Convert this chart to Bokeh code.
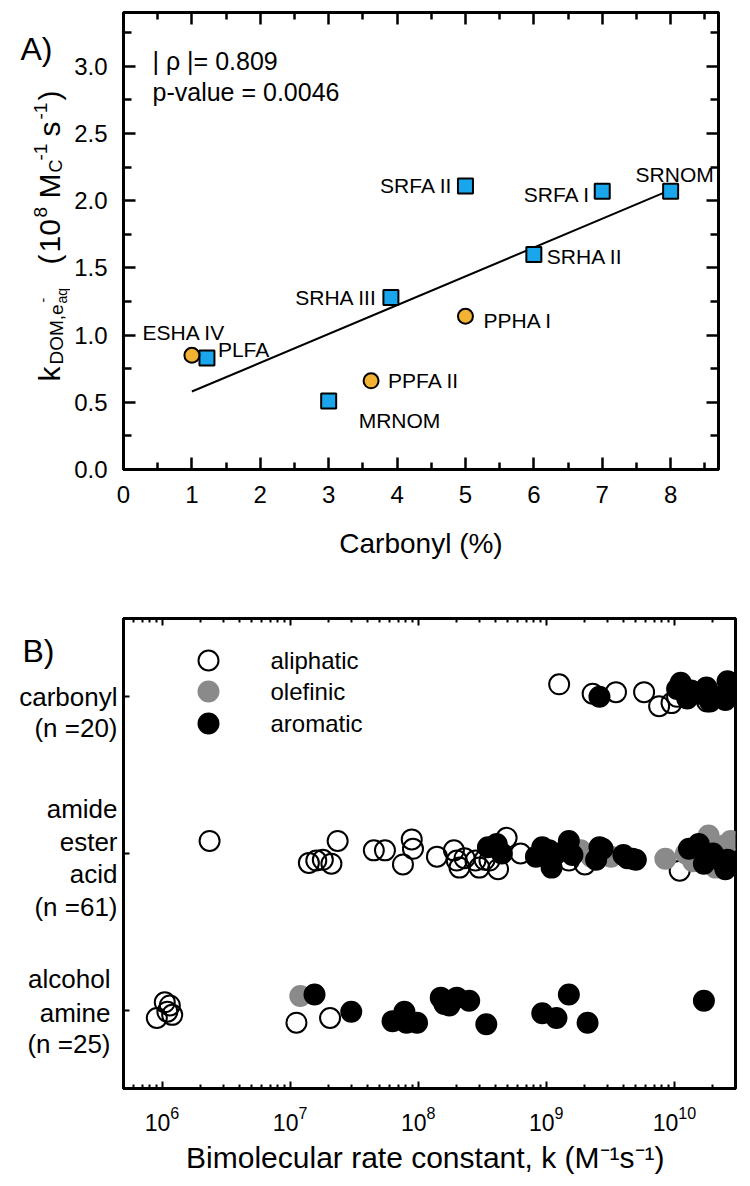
import math
from bokeh.plotting import figure
from bokeh.models import (ColumnDataSource, FixedTicker, LinearAxis, LogAxis,
                          Label, Range1d, NumeralTickFormatter)
from bokeh.layouts import column, row
from bokeh.core.properties import value
from bokeh.embed import file_html
from bokeh.resources import INLINE

FONT = "Liberation Sans"

# ---------------- Panel A data ----------------
a_names = ["ESHA IV", "PLFA", "MRNOM", "PPFA II", "SRHA III",
           "PPHA I", "SRFA II", "SRHA II", "SRFA I", "SRNOM"]
a_carbonyl = [1.0, 1.22, 3.0, 3.62, 3.91, 5.0, 5.0, 6.0, 7.0, 8.0]
a_kdom = [0.85, 0.83, 0.51, 0.66, 1.28, 1.14, 2.11, 1.60, 2.07, 2.07]
a_group = ["circle", "square", "square", "circle", "square",
           "circle", "square", "square", "square", "square"]
fit_x = [1.0, 8.0]
fit_y = [0.58, 2.08]
a_xticks = [0, 1, 2, 3, 4, 5, 6, 7, 8]
a_yticks = [0.0, 0.5, 1.0, 1.5, 2.0, 2.5, 3.0]
a_stats = ["| \u03c1 |= 0.809", "p-value = 0.0046"]

# ---------------- Panel B data ----------------
b_types = ["aliphatic", "olefinic", "aromatic"]
b_row_labels = [["carbonyl", "(n =20)"],
                ["amide", "ester", "acid", "(n =61)"],
                ["alcohol", "amine", "(n =25)"]]
b_row_pos = [3, 2, 1]

carbonyl_aliphatic_k = [1.26e9, 2.3e9, 3.5e9, 5.8e9, 7.6e9, 9.5e9, 1.05e10, 1.8e10]
carbonyl_aliphatic_y = [3.08, 3.02, 3.03, 3.03, 2.94, 2.96, 3.00, 2.97]
carbonyl_olefinic_k = []
carbonyl_olefinic_y = []
carbonyl_aromatic_k = [2.6e9, 1.05e10, 1.12e10, 1.26e10, 1.35e10, 1.58e10,
                       1.78e10, 1.9e10, 2.1e10, 2.5e10, 2.6e10, 2.8e10]
carbonyl_aromatic_y = [3.00, 3.05, 3.09, 2.99, 3.04, 3.02, 3.06, 2.97, 3.00, 2.98, 3.10, 3.03]

amide_aliphatic_k = [2.35e6, 1.4e7, 1.6e7, 1.8e7, 2.1e7, 2.35e7, 4.5e7, 5.5e7, 7.6e7,
                     8.9e7, 9.1e7, 1.4e8, 1.9e8, 2.0e8, 2.1e8, 2.3e8, 2.8e8, 3.0e8,
                     3.3e8, 3.6e8, 4.2e8, 4.9e8, 6.3e8, 1.5e9, 2.0e9, 1.1e10]
amide_aliphatic_y = [2.08, 1.94, 1.955, 1.96, 1.935, 2.08, 2.02, 2.02, 1.93,
                     2.09, 2.03, 1.98, 2.02, 1.955, 1.91, 1.97, 1.955, 1.91,
                     1.96, 1.955, 1.90, 2.10, 2.00, 1.955, 1.93, 1.89]
amide_olefinic_k = [1.85e9, 2.25e9, 3.2e9, 8.5e9, 1.23e10, 1.4e10, 1.85e10,
                    2.1e10, 2.1e10, 2.4e10, 2.75e10]
amide_olefinic_y = [2.02, 1.98, 1.98, 1.966, 2.00, 1.95, 2.115, 2.02, 1.91, 2.05, 2.08]
amide_aromatic_k = [3.5e8, 4.1e8, 4.5e8, 8.3e8, 9.3e8, 1.05e9, 1.1e9, 1.2e9, 1.5e9,
                    1.6e9, 2.45e9, 2.6e9, 2.75e9, 4.0e9, 4.3e9, 4.7e9, 5.0e9,
                    1.3e10, 1.55e10, 1.7e10, 2.0e10, 2.3e10, 2.5e10, 2.6e10]
amide_aromatic_y = [2.04, 2.06, 2.00, 1.98, 2.04, 2.02, 1.91, 2.00, 2.08,
                    1.99, 1.96, 2.04, 2.03, 1.99, 1.97, 1.966, 1.96,
                    2.03, 2.06, 1.935, 2.00, 1.955, 1.90, 1.96]

alcohol_aliphatic_k = [9.1e5, 1.05e6, 1.1e6, 1.15e6, 1.2e6, 1.12e7, 2.05e7]
alcohol_aliphatic_y = [0.95, 1.05, 0.99, 1.03, 0.97, 0.92, 0.95]
alcohol_olefinic_k = [1.2e7]
alcohol_olefinic_y = [1.09]
alcohol_aromatic_k = [1.55e7, 3.0e7, 6.3e7, 7.8e7, 8.1e7, 9.8e7, 1.5e8, 1.6e8, 1.75e8,
                      2.0e8, 2.5e8, 3.4e8, 9.3e8, 1.2e9, 1.5e9, 2.1e9, 1.7e10]
alcohol_aromatic_y = [1.10, 0.99, 0.93, 0.99, 0.92, 0.92, 1.08, 1.04, 1.03,
                      1.08, 1.06, 0.91, 0.98, 0.95, 1.10, 0.92, 1.06]

b_decades = [1e6, 1e7, 1e8, 1e9, 1e10]


# ================= helpers =================
def style_axis(ax, maj, mnr, lw):
    ax.axis_line_width = 3
    ax.axis_line_color = "black"
    ax.major_tick_in = maj
    ax.major_tick_out = 0
    ax.minor_tick_in = mnr
    ax.minor_tick_out = 0
    ax.major_tick_line_width = lw
    ax.minor_tick_line_width = lw
    ax.major_tick_line_color = "black"
    ax.minor_tick_line_color = "black" if mnr > 0 else None
    ax.major_label_text_font = FONT
    ax.major_label_text_color = "black"
    ax.axis_label_text_font = FONT
    ax.axis_label_text_font_style = "normal"
    ax.axis_label_text_color = "black"


def blank(ax):
    ax.major_label_text_font_size = "1px"
    ax.major_label_text_alpha = 0
    ax.major_label_standoff = 0
    ax.axis_label = None


def strip(w, h, top):
    # a bare drawing area whose data units are page pixels (y grows downwards)
    s = figure(width=w, height=h, x_range=Range1d(0, w), y_range=Range1d(top + h, top),
               output_backend="svg", toolbar_location=None, min_border=0,
               x_axis_location=None, y_axis_location=None, frame_align=False)
    s.grid.visible = False
    s.outline_line_color = None
    return s


def put(fig, X, Y, txt, size, align="left", baseline="alphabetic", angle=0.0):
    fig.add_layout(Label(x=X, y=Y, text=txt, angle=angle, text_font=FONT,
                         text_font_size=f"{size}px", text_align=align,
                         text_baseline=baseline, text_color="black"))


# ================= Panel A =================
A_X = (0, 8.7)
A_Y = (0, 3.4)
A_L, A_R, A_T, A_B = 123, 718, 12, 469   # frame edges on the page
A_H = 580
SA_W = 70


def a_pos(X, Y):
    x = A_X[0] + (X - A_L) / (A_R - A_L) * (A_X[1] - A_X[0])
    y = A_Y[0] + (A_B - Y) / (A_B - A_T) * (A_Y[1] - A_Y[0])
    return x, y


pA = figure(width=750 - SA_W, height=A_H, x_range=A_X, y_range=A_Y,
            output_backend="svg", toolbar_location=None, frame_align=False,
            min_border_left=A_L - SA_W, min_border_right=750 - A_R,
            min_border_top=A_T, min_border_bottom=A_H - A_B)
pA.grid.visible = False
pA.outline_line_color = "black"
pA.outline_line_width = 3

xt = FixedTicker(ticks=a_xticks, minor_ticks=[t + 0.5 for t in a_xticks])
yt = FixedTicker(ticks=a_yticks, minor_ticks=[t + 0.25 for t in a_yticks])

xa = pA.xaxis[0]
xa.ticker = xt
style_axis(xa, 12, 7, 2.5)
xa.major_label_text_font_size = "24px"
xa.major_label_standoff = 16
xa.axis_label = "Carbonyl (%)"
xa.axis_label_text_font_size = "28px"
xa.axis_label_standoff = 22

ya = pA.yaxis[0]
ya.ticker = yt
style_axis(ya, 12, 8, 2.5)
ya.major_label_text_font_size = "24px"
ya.major_label_standoff = 16
ya.axis_label = None
ya.formatter = NumeralTickFormatter(format="0.0")

top_a = LinearAxis(ticker=xt)
style_axis(top_a, 12, 7, 2.5)
blank(top_a)
pA.add_layout(top_a, "above")
right_a = LinearAxis(ticker=yt)
style_axis(right_a, 12, 8, 2.5)
blank(right_a)
pA.add_layout(right_a, "right")

pA.line(fit_x, fit_y, line_color="black", line_width=2)

sq = [i for i, g in enumerate(a_group) if g == "square"]
ci = [i for i, g in enumerate(a_group) if g == "circle"]
pA.scatter([a_carbonyl[i] for i in sq], [a_kdom[i] for i in sq], marker="square",
           size=15, fill_color="#1AA6EC", line_color="black", line_width=2)
pA.scatter([a_carbonyl[i] for i in ci], [a_kdom[i] for i in ci], marker="circle",
           size=15, fill_color="#F2B233", line_color="black", line_width=2)

# label placement: (align, dx px, dy px with +down)
place = {"ESHA IV": ("center", -8, -23), "PLFA": ("left", 11, -8),
         "MRNOM": ("left", 30, 20), "PPFA II": ("left", 17, 0),
         "SRHA III": ("right", -14, 0), "PPHA I": ("left", 18, 4),
         "SRFA II": ("right", -13, 0), "SRHA II": ("left", 13, 2),
         "SRFA I": ("right", -12, 3), "SRNOM": ("center", 4, -17)}
lab_src = ColumnDataSource(dict(
    x=a_carbonyl, y=a_kdom, name=a_names,
    align=[place[n][0] for n in a_names],
    dx=[place[n][1] for n in a_names],
    dy=[place[n][2] for n in a_names]))
pA.text(x="x", y="y", text="name", source=lab_src, x_offset="dx", y_offset="dy",
        text_align="align", text_baseline="middle", text_color="black",
        text_font=value(FONT), text_font_size="21px")

for txt, (X, Y) in zip(a_stats, [(152, 60), (152, 91)]):
    x, y = a_pos(X, Y)
    pA.add_layout(Label(x=x, y=y, text=txt, text_font=FONT, text_font_size="25px",
                        text_align="left", text_baseline="middle", text_color="black"))

# left strip of panel A: panel letter and the rotated y-axis title
sA = strip(SA_W, A_H, 0)
put(sA, 20, 48, "A)", 32)
# (text, bottom y, baseline x, size)
ylab_pieces = [("k", 381, 49, 30), ("DOM,e", 364, 56, 19), ("-", 302, 42, 14),
               ("aq", 303, 61, 14), ("(", 264, 49, 30), ("10", 252, 49, 30),
               ("8", 217, 40, 19), ("M", 198, 49, 30), ("C", 172, 55, 18),
               ("-1", 160, 40, 19), ("s", 136, 49, 30), ("-1", 119, 40, 19),
               (")", 100, 49, 30)]
for txt, Y, X, s in ylab_pieces:
    put(sA, X, Y, txt, s, angle=math.pi / 2)

# ================= Panel B =================
B_X = (5e5, 3e10)
B_Y = (0.5, 3.5)
B_L, B_R, B_T, B_B = 123, 735, 618, 1088
B_H = 606
SB_W = 118


def b_pos(X, Y):
    l0, l1 = math.log10(B_X[0]), math.log10(B_X[1])
    lx = l0 + (X - B_L) / (B_R - B_L) * (l1 - l0)
    y = B_Y[0] + (B_B - Y) / (B_B - B_T) * (B_Y[1] - B_Y[0])
    return 10 ** lx, y


pB = figure(width=750 - SB_W, height=B_H, x_axis_type="log", x_range=B_X, y_range=B_Y,
            output_backend="svg", toolbar_location=None, frame_align=False,
            min_border_left=B_L - SB_W, min_border_right=750 - B_R,
            min_border_top=B_T - A_H, min_border_bottom=A_H + B_H - B_B)
pB.grid.visible = False
pB.outline_line_color = "black"
pB.outline_line_width = 3

bx_t = FixedTicker(ticks=b_decades,
                   minor_ticks=[m * 10 ** e for e in range(5, 11) for m in range(2, 10)])
xb = pB.xaxis[0]
xb.ticker = bx_t
style_axis(xb, 7, 4, 2)
xb.major_label_text_font_size = "23px"
xb.major_label_standoff = 17
xb.axis_label = "Bimolecular rate constant, k  (M\u207b\u00b9s\u207b\u00b9)"
xb.axis_label_text_font_size = "30px"
xb.axis_label_standoff = 7

yb = pB.yaxis[0]
yb.ticker = FixedTicker(ticks=b_row_pos, minor_ticks=[])
style_axis(yb, 6, 0, 2)
blank(yb)

top_b = LogAxis(ticker=bx_t)
style_axis(top_b, 7, 4, 2)
blank(top_b)
pB.add_layout(top_b, "above")

ali_k = carbonyl_aliphatic_k + amide_aliphatic_k + alcohol_aliphatic_k
ali_y = carbonyl_aliphatic_y + amide_aliphatic_y + alcohol_aliphatic_y
ole_k = carbonyl_olefinic_k + amide_olefinic_k + alcohol_olefinic_k
ole_y = carbonyl_olefinic_y + amide_olefinic_y + alcohol_olefinic_y
aro_k = carbonyl_aromatic_k + amide_aromatic_k + alcohol_aromatic_k
aro_y = carbonyl_aromatic_y + amide_aromatic_y + alcohol_aromatic_y

styles = {"aliphatic": dict(fill_color=None, line_color="black"),
          "olefinic": dict(fill_color="#8a8a8a", line_color="#8a8a8a"),
          "aromatic": dict(fill_color="black", line_color="black")}
for (kk, yy), t in zip([(ali_k, ali_y), (ole_k, ole_y), (aro_k, aro_y)], b_types):
    pB.scatter(kk, yy, marker="circle", size=20, line_width=2, **styles[t])

# legend (drawn by hand so that its rows are as tight as in the figure)
for t, Y in zip(b_types, [660, 691, 723]):
    mx, my = b_pos(208, Y)
    pB.scatter([mx], [my], marker="circle", size=20, line_width=2, **styles[t])
    lx, ly = b_pos(270, Y)
    pB.add_layout(Label(x=lx, y=ly, text=t, text_font=FONT, text_font_size="24px",
                        text_align="left", text_baseline="middle", text_color="black"))

# left strip of panel B: panel letter and row labels
sB = strip(SB_W, B_H, A_H)
put(sB, 22, 650, "B)", 32)
row_line_y = [[696, 727], [808, 841, 873, 906], [978, 1012, 1043]]
row_right = [117, 117, 110]
for lines, ys, R in zip(b_row_labels, row_line_y, row_right):
    for t, Y in zip(lines, ys):
        put(sB, R, Y, t, 26, align="right", baseline="middle")

layout = column(row(sA, pA), row(sB, pB))
open("out.html", "w").write(file_html(layout, INLINE))
